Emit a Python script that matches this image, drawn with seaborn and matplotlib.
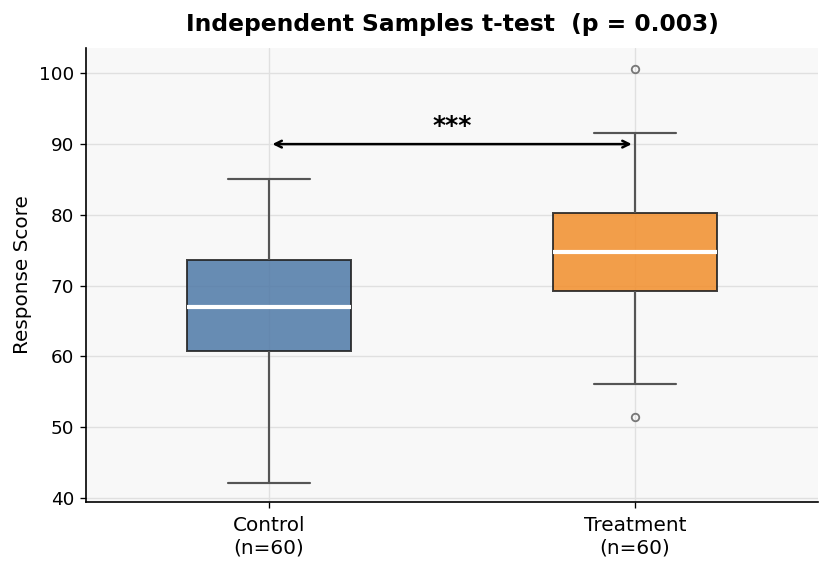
import numpy as np
import pandas as pd
import matplotlib
matplotlib.use("Agg")
import matplotlib.pyplot as plt
import seaborn as sns

# Data (box summary values)
groups = ["Control", "Treatment"]
tick_labels = ["Control\n(n=60)", "Treatment\n(n=60)"]
control_values = [42.1, 60.8, 67.0, 73.6, 85.1]          # whisker low, Q1, median, Q3, whisker high
treatment_values = [51.5, 56.1, 69.3, 69.3, 74.7, 80.2, 80.2, 91.6, 100.6]  # incl. outliers
colors = ["#4e79a7", "#f28e2b"]
p_value = 0.003
bracket_y = 90

df = pd.DataFrame({
    "group": ["Control"] * len(control_values) + ["Treatment"] * len(treatment_values),
    "score": control_values + treatment_values,
})

sns.set_style("white")
plt.rcParams.update({"text.color": "black", "axes.labelcolor": "black",
                     "xtick.color": "black", "ytick.color": "black"})
fig = plt.figure(figsize=(831 / 120, 570 / 120), dpi=120)
ax = fig.add_axes([0.1035, 0.119, 0.881, 0.797])
ax.set_facecolor("#f8f8f8")

sns.boxplot(data=df, x="group", y="score", hue="group", order=groups,
            palette=colors, saturation=1, width=0.45, whis=1.5, ax=ax, legend=False,
            linecolor="#222222", linewidth=1.2,
            boxprops=dict(alpha=0.85, edgecolor="#222222", linewidth=1.2),
            medianprops=dict(color="white", linewidth=2.5),
            whiskerprops=dict(color="#555555", linewidth=1.3),
            capprops=dict(color="#555555", linewidth=1.3),
            flierprops=dict(marker="o", markersize=4.5, markerfacecolor="none",
                            markeredgecolor="#777777", markeredgewidth=1.1))

ax.set_xlim(-0.5, 1.5)
ax.set_ylim(39.4, 103.6)
ax.set_yticks([40, 50, 60, 70, 80, 90, 100])
ax.set_xticks([0, 1])
ax.set_xticklabels(tick_labels, fontsize=12)
ax.tick_params(axis="y", labelsize=11, left=True, length=3.5, width=0.8)
ax.tick_params(axis="x", bottom=True, length=3.5, width=0.8, pad=5)
ax.grid(True, color="#e0e0e0", linewidth=0.8)
ax.set_axisbelow(True)
ax.set_xlabel("")
ax.set_ylabel("Response Score", fontsize=12)
for s in ["top", "right"]:
    ax.spines[s].set_visible(False)
for s in ["left", "bottom"]:
    ax.spines[s].set_color("black")
    ax.spines[s].set_linewidth(1.0)

ax.annotate("", xy=(1, bracket_y), xytext=(0, bracket_y),
            arrowprops=dict(arrowstyle="<->", color="black", lw=1.5))
ax.text(0.5, bracket_y + 0.8, "***", ha="center", va="bottom",
        fontsize=15, fontweight="bold")

ax.set_title(f"Independent Samples t-test  (p = {p_value:.3f})",
             fontsize=14, fontweight="bold", pad=10)

fig.savefig("out.png", dpi=120)
